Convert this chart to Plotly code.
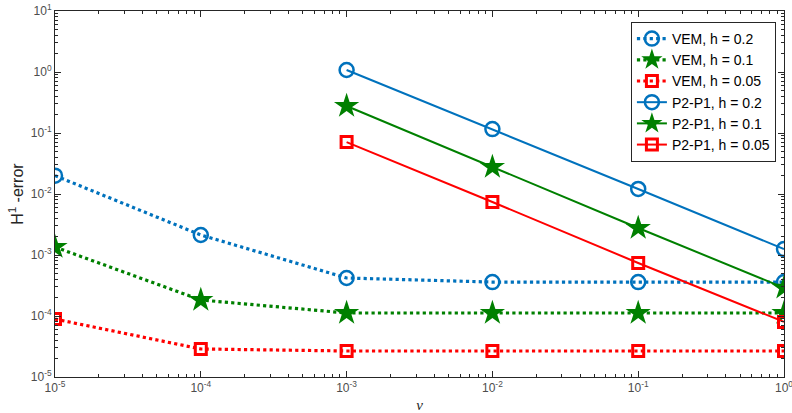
import plotly.graph_objects as go

# viscosity values
nu_vem = [1e-5, 1e-4, 1e-3, 1e-2, 1e-1, 1e0]
nu_p2p1 = [1e-3, 1e-2, 1e-1, 1e0]

# H1 errors, VEM
vem_h02 = [2.0e-2, 2.13e-3, 4.2e-4, 3.6e-4, 3.6e-4, 3.6e-4]
vem_h01 = [1.35e-3, 1.83e-4, 1.12e-4, 1.12e-4, 1.12e-4, 1.12e-4]
vem_h005 = [8.9e-5, 2.88e-5, 2.67e-5, 2.67e-5, 2.67e-5, 2.67e-5]

# H1 errors, P2-P1
p2p1_h02 = [1.08, 0.116, 0.0121, 1.25e-3]
p2p1_h01 = [0.277, 0.0277, 2.77e-3, 2.9e-4]
p2p1_h005 = [0.071, 0.0074, 7.4e-4, 8.0e-5]

# decade ticks
x_exps = [-5, -4, -3, -2, -1, 0]
y_exps = [-5, -4, -3, -2, -1, 0, 1]

BLUE = "#0072BD"
GREEN = "#008000"
RED = "#FF0000"

fig = go.Figure()

def add(x, y, name, color, dash, symbol, msize, lw, mlw):
    fig.add_trace(go.Scatter(
        x=x, y=y, name=name, mode="lines+markers",
        line=dict(color=color, width=lw, dash=dash),
        marker=dict(symbol=symbol, size=msize, color=color,
                    line=dict(color=color, width=mlw)),
    ))

add(nu_vem, vem_h02, "VEM, h = 0.2", BLUE, "dot", "circle-open", 14, 3.2, 2.5)
add(nu_vem, vem_h01, "VEM, h = 0.1", GREEN, "dot", "star", 19, 3.2, 0)
add(nu_vem, vem_h005, "VEM, h = 0.05", RED, "dot", "square-open", 11, 3.2, 3)
add(nu_p2p1, p2p1_h02, "P2-P1, h = 0.2", BLUE, "solid", "circle-open", 14, 2, 2.5)
add(nu_p2p1, p2p1_h01, "P2-P1, h = 0.1", GREEN, "solid", "star", 19, 2, 0)
add(nu_p2p1, p2p1_h005, "P2-P1, h = 0.05", RED, "solid", "square-open", 11, 2, 3)


def log_axis(exps):
    major = [10.0 ** e for e in exps]
    minor = [m * 10.0 ** e for e in exps[:-1] for m in range(2, 10)]
    return dict(
        type="log", showgrid=False, zeroline=False, automargin=False,
        showline=True, linecolor="#262626", linewidth=1, mirror="ticks",
        ticks="inside", ticklen=6, tickcolor="#262626",
        tickmode="array", tickvals=major,
        ticktext=[f"10<sup>{e}</sup>" for e in exps],
        ticklabeloverflow="allow",
        tickfont=dict(family="Liberation Sans, Arial", size=12, color="#4d4d4d"),
        minor=dict(ticks="inside", ticklen=3, tickcolor="#262626",
                   tickmode="array", tickvals=minor, showgrid=False),
    )


fig.update_xaxes(range=[-5, 0], **log_axis(x_exps),
                 title=dict(text="<i>ν</i>", standoff=9,
                            font=dict(family="Liberation Serif, Times New Roman", size=15, color="#262626")))
fig.update_yaxes(range=[-5, 1], **log_axis(y_exps),
                 title=dict(text="H<sup>1</sup> -error", standoff=3,
                            font=dict(family="Liberation Sans, Arial", size=16, color="#262626")))

fig.update_layout(
    width=792, height=413,
    margin=dict(l=55, r=8, t=11, b=36),
    paper_bgcolor="white", plot_bgcolor="white",
    legend=dict(x=0.79, y=0.97, xanchor="left", yanchor="top",
                bgcolor="white", bordercolor="#262626", borderwidth=1,
                font=dict(family="Liberation Sans, Arial", size=14, color="black"),
                itemwidth=30, tracegroupgap=0),
    showlegend=True,
)

fig.write_html("out.html")
